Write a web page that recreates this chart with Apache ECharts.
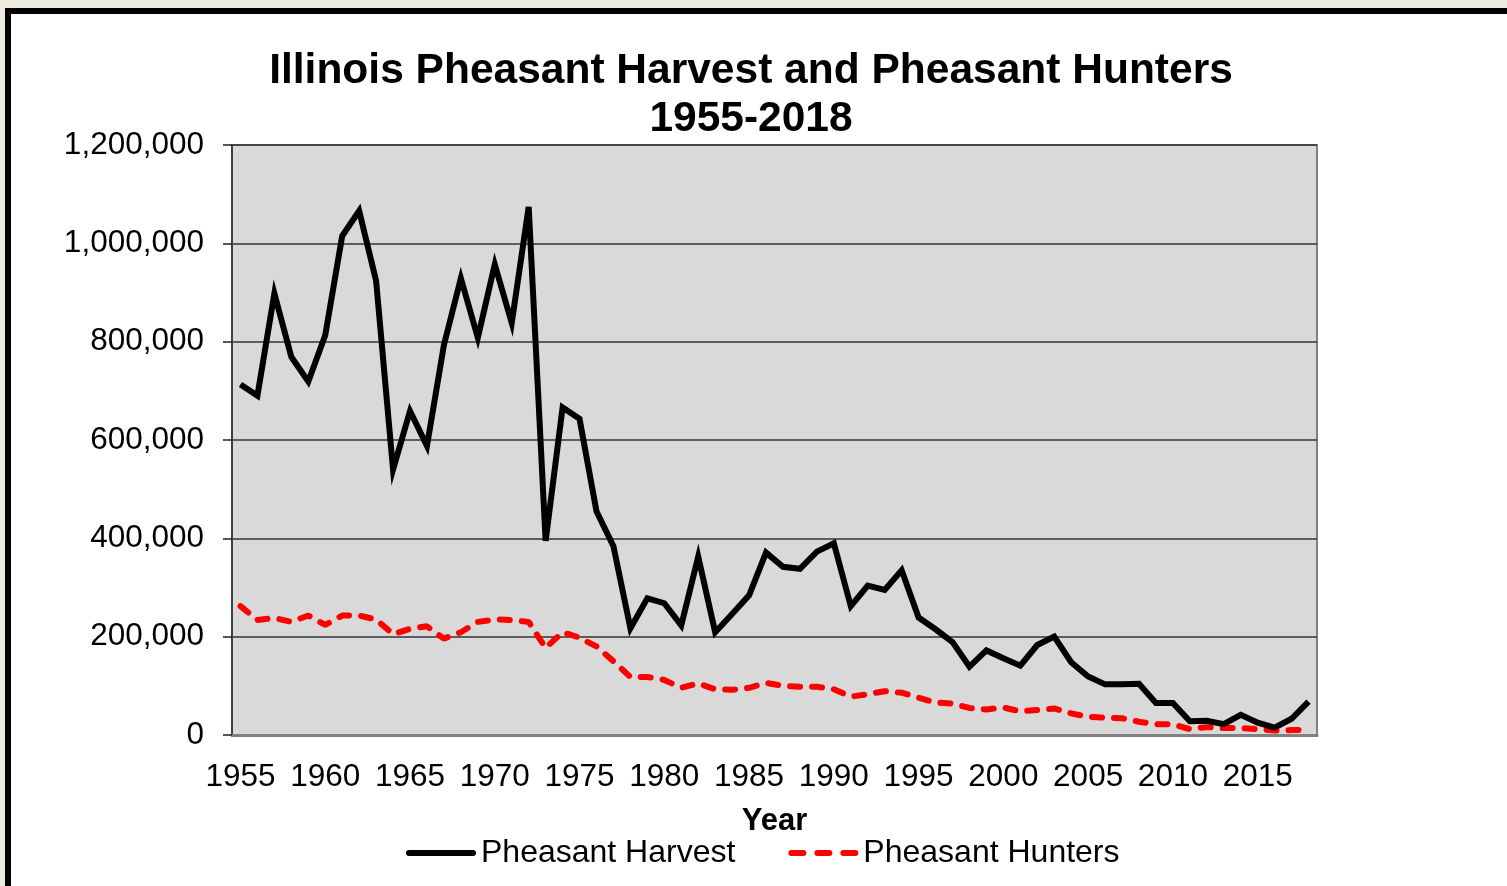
<!DOCTYPE html>
<html>
<head>
<meta charset="utf-8">
<script src="https://cdn.jsdelivr.net/npm/echarts@6/dist/echarts.min.js"></script>
<style>
  html, body { margin:0; padding:0; width:1507px; height:886px; overflow:hidden; background:#EDEAE0; }
  #frame { position:absolute; left:5px; top:8px; width:2000px; height:2000px; border:6px solid #000; background:#fff; }
  #chart { position:absolute; left:0; top:0; width:1507px; height:886px; }
</style>
</head>
<body>
<div id="frame"></div>
<div id="chart"></div>
<script>
const years = [
  '1955','1956','1957','1958','1959','1960','1961','1962','1963','1964',
  '1965','1966','1967','1968','1969','1970','1971','1972','1973','1974',
  '1975','1976','1977','1978','1979','1980','1981','1982','1983','1984',
  '1985','1986','1987','1988','1989','1990','1991','1992','1993','1994',
  '1995','1996','1997','1998','1999','2000','2001','2002','2003','2004',
  '2005','2006','2007','2008','2009','2010','2011','2012','2013','2014',
  '2015','2016','2017','2018'
];
const pheasantHarvest = [
  713000,690000,898000,769000,719000,813000,1015000,1066000,924000,540000,
  659000,588000,793000,929000,808000,957000,838000,1074000,395000,666000,
  643000,455000,384000,217000,278000,268000,223000,363000,209000,246000,
  284000,371000,342000,338000,373000,390000,262000,304000,295000,335000,
  239000,215000,189000,139000,172000,156000,141000,183000,200000,148000,
  119000,103000,103000,104000,65000,65000,28000,29000,22000,41000,
  25000,15000,33000,68000
];
const pheasantHunters = [
  262000,234000,238000,230000,243000,224000,243000,243000,235000,205000,
  216000,221000,196000,209000,230000,235000,234000,230000,177000,209000,
  198000,180000,150000,118000,118000,112000,96000,105000,93000,92000,
  96000,106000,100000,98000,98000,93000,78000,83000,89000,86000,
  76000,66000,64000,55000,52000,56000,48000,51000,54000,44000,
  37000,35000,34000,27000,22000,22000,12000,16000,14000,14000,
  12000,9000,10000,10000
];
const titleLines = ['Illinois Pheasant Harvest and Pheasant Hunters', '1955-2018'];
const xAxisName = 'Year';
const seriesNames = ['Pheasant Harvest', 'Pheasant Hunters'];

const chart = echarts.init(document.getElementById('chart'), null, { renderer: 'canvas' });
const FONT = '"Liberation Sans", Arial, sans-serif';
const solidIcon = 'path://M3,0H67A3,3 0 0 1 67,6H3A3,3 0 0 1 3,0Z';
const dashIcon = 'path://M3,0H15A3,3 0 0 1 15,6H3A3,3 0 0 1 3,0Z' +
  'M29,0H41A3,3 0 0 1 41,6H29A3,3 0 0 1 29,0Z' +
  'M55,0H67A3,3 0 0 1 67,6H55A3,3 0 0 1 55,0Z';
chart.setOption({
  backgroundColor: 'transparent',
  animation: false,
  title: {
    text: titleLines.join('\n'),
    left: 746,
    textAlign: 'center',
    top: 42,
    textStyle: { fontFamily: FONT, fontWeight: 'bold', fontSize: 42.5, lineHeight: 48, color: '#000' }
  },
  legend: {
    bottom: 12,
    left: 401,
    itemWidth: 70,
    itemHeight: 6,
    itemGap: 53,
    textStyle: { fontFamily: FONT, fontSize: 32, color: '#000' },
    data: [
      { name: seriesNames[0], icon: solidIcon },
      { name: seriesNames[1], icon: dashIcon }
    ]
  },
  grid: {
    left: 232, right: 190, top: 145, bottom: 151,
    show: true,
    backgroundColor: '#D9D9D9',
    borderColor: '#808080',
    borderWidth: 2
  },
  xAxis: {
    type: 'category',
    data: years,
    boundaryGap: true,
    name: xAxisName,
    nameLocation: 'middle',
    nameGap: 71,
    nameTextStyle: { fontFamily: FONT, fontWeight: 'bold', fontSize: 31, color: '#000' },
    axisLine: { show: true, lineStyle: { color: '#808080', width: 3 } },
    axisTick: { show: false },
    axisLabel: { interval: 4, margin: 26, fontFamily: FONT, fontSize: 31.5, color: '#000' },
    splitLine: { show: false }
  },
  yAxis: {
    type: 'value',
    min: 0,
    max: 1200000,
    interval: 200000,
    axisLine: { show: true, lineStyle: { color: '#404040', width: 2 } },
    axisTick: { show: true, length: 9, inside: false, lineStyle: { color: '#222', width: 1.5 } },
    axisLabel: {
      margin: 28, fontFamily: FONT, fontSize: 31.5, color: '#000',
      formatter: v => v.toLocaleString('en-US')
    },
    splitLine: { show: true, lineStyle: { color: '#333', width: 1.5 } }
  },
  series: [
    {
      name: seriesNames[0],
      type: 'line',
      data: pheasantHarvest,
      symbol: 'none',
      lineStyle: { color: '#000', width: 6, join: 'miter' },
      itemStyle: { color: '#000' },
      z: 3
    },
    {
      name: seriesNames[1],
      type: 'line',
      data: pheasantHunters,
      symbol: 'none',
      lineStyle: { color: '#FF0000', width: 6, type: [10, 12], cap: 'round' },
      itemStyle: { color: '#FF0000' },
      z: 2
    }
  ]
});
</script>
</body>
</html>
